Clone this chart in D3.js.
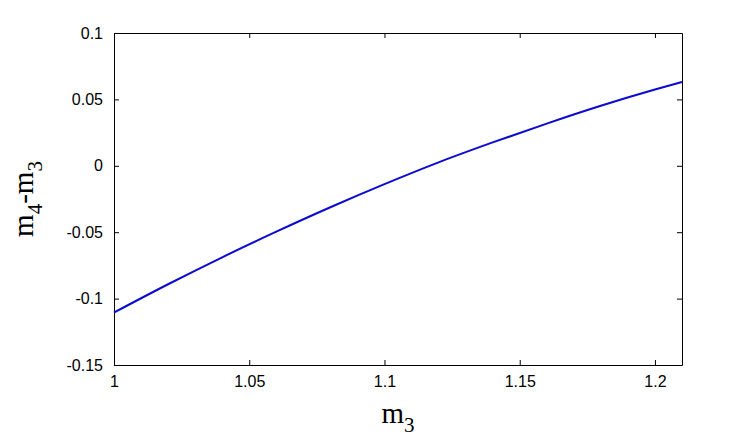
<!DOCTYPE html>
<html>
<head>
<meta charset="utf-8">
<script src="https://cdn.jsdelivr.net/npm/d3@7"></script>
<style>
  body { margin: 0; background: #fff; }
</style>
</head>
<body>
<svg id="graph" width="754" height="444"></svg>
<script>
// m3 values and the matching m4 - m3 values
const m3 = [1.00, 1.02, 1.04, 1.06, 1.08, 1.10, 1.12, 1.14, 1.16, 1.18, 1.20, 1.21];
const diff = [-0.1105, -0.0892, -0.0689, -0.0496, -0.0312, -0.0138, 0.0026, 0.0176, 0.0318, 0.0452, 0.0574, 0.0631];

const xTicks = [1, 1.05, 1.1, 1.15, 1.2];
const yTicks = [-0.15, -0.1, -0.05, 0, 0.05, 0.1];

const svg = d3.select('svg#graph');
const margin = {top: 33, right: 72, bottom: 79, left: 114};
const width = +svg.attr('width') - margin.left - margin.right;
const height = +svg.attr('height') - margin.top - margin.bottom;
const g = svg.append('g').attr('transform', `translate(${margin.left},${margin.top})`);

const x = d3.scaleLinear().domain([1, 1.21]).range([0, width]);
const y = d3.scaleLinear().domain([-0.15, 0.1]).range([height, 0]);

const fmt = d => String(d);

// axes with inward ticks on all four sides
const axBottom = g.append('g').attr('transform', `translate(0,${height})`)
  .call(d3.axisBottom(x).tickValues(xTicks).tickFormat(fmt).tickSizeInner(-5).tickSizeOuter(0).tickPadding(11));
const axTop = g.append('g')
  .call(d3.axisTop(x).tickValues(xTicks).tickFormat('').tickSizeInner(-5).tickSizeOuter(0));
const axLeft = g.append('g')
  .call(d3.axisLeft(y).tickValues(yTicks).tickFormat(fmt).tickSizeInner(-5).tickSizeOuter(0).tickPadding(11));
const axRight = g.append('g').attr('transform', `translate(${width},0)`)
  .call(d3.axisRight(y).tickValues(yTicks).tickFormat('').tickSizeInner(-5).tickSizeOuter(0));

[axBottom, axTop, axLeft, axRight].forEach(a => {
  a.selectAll('path, line').attr('stroke', '#000').attr('stroke-width', 1);
  a.selectAll('text')
    .attr('fill', '#000')
    .style('font-family', 'Arial, "Liberation Sans", sans-serif')
    .style('font-size', '16px');
});

const line = d3.line()
  .x((d, i) => x(m3[i]))
  .y(d => y(d))
  .curve(d3.curveMonotoneX);

g.append('path')
  .datum(diff)
  .attr('fill', 'none')
  .attr('stroke', '#0a0ad0')
  .attr('stroke-width', 2)
  .attr('d', line);

// axis labels
const xl = svg.append('text')
  .attr('x', margin.left + width / 2)
  .attr('y', 423)
  .attr('text-anchor', 'middle')
  .style('font-family', '"Times New Roman", "Liberation Serif", serif')
  .style('font-size', '29px');
xl.append('tspan').text('m');
xl.append('tspan').attr('dy', 9).style('font-size', '21px').text('3');

const yl = svg.append('text')
  .attr('transform', `translate(33,${margin.top + height / 2}) rotate(-90)`)
  .attr('text-anchor', 'middle')
  .style('font-family', '"Times New Roman", "Liberation Serif", serif')
  .style('font-size', '29px');
yl.append('tspan').text('m');
yl.append('tspan').attr('dy', 9).style('font-size', '21px').text('4');
yl.append('tspan').attr('dy', -9).text('-m');
yl.append('tspan').attr('dy', 9).style('font-size', '21px').text('3');
</script>
</body>
</html>
